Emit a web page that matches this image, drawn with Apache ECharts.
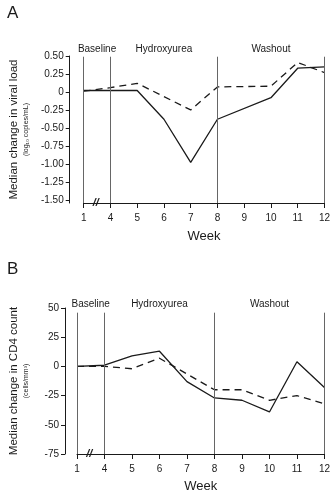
<!DOCTYPE html>
<html>
<head>
<meta charset="utf-8">
<script src="https://cdn.jsdelivr.net/npm/echarts@6/dist/echarts.min.js"></script>
<style>
html,body{margin:0;padding:0;background:#fff;}
#c{width:333px;height:494px;}
</style>
</head>
<body>
<div id="c"></div>
<script>
// ---- data ----
var weeks = ['1','4','5','6','7','8','9','10','11','12'];
var viralSolid  = [0.02, 0.02, 0.02, -0.38, -0.98, -0.38, null, -0.08, 0.33, 0.35];
var viralDashed = [0.01, 0.06, 0.12, null, -0.25, 0.07, null, 0.08, 0.41, 0.27];
var cd4Solid  = [0, 1, 9, 13, -13, -27, -29, -39, 4, -18];
var cd4Dashed = [0, 0, -2, 7, null, -20, -20, -29, -25, -32];
var viralTicks = [-1.5, -1.25, -1, -0.75, -0.5, -0.25, 0, 0.25, 0.5];
var cd4Ticks = [-75, -50, -25, 0, 25, 50];
var phaseNames = ['Baseline', 'Hydroxyurea', 'Washout'];
var phaseBounds = ['1', '4', '8', '12'];

var FONT = 'Liberation Sans, Arial, Helvetica, sans-serif';
var INK = '#1a1a1a';

function phaseAreas(yTop, yBot) {
  var out = [];
  for (var i = 0; i < phaseNames.length; i++) {
    out.push([{ name: phaseNames[i], xAxis: phaseBounds[i], yAxis: yTop },
              { xAxis: phaseBounds[i + 1], yAxis: yBot }]);
  }
  return out;
}
function phaseLines(yTop, yBot) {
  return phaseBounds.map(function (b) {
    return [{ coord: [b, yTop] }, { coord: [b, yBot] }];
  });
}

var chart = echarts.init(document.getElementById('c'), null, { renderer: 'canvas' });

var xAxisCommon = {
  type: 'category',
  data: weeks,
  boundaryGap: false,
  axisLine: { onZero: false, lineStyle: { color: INK, width: 1 } },
  axisTick: { show: true, alignWithLabel: true, length: 5, lineStyle: { color: INK } },
  axisLabel: { color: INK, fontSize: 10, fontFamily: FONT, margin: 10 },
  splitLine: { show: false },
  name: 'Week',
  nameLocation: 'middle',
  nameTextStyle: { color: INK, fontSize: 13, fontFamily: FONT }
};

var option = {
  animation: false,
  backgroundColor: '#fff',
  title: [
    { text: 'A', left: 2, top: 0, textStyle: { fontSize: 17, fontWeight: 'normal', color: INK, fontFamily: FONT } },
    { text: 'B', left: 2, top: 256, textStyle: { fontSize: 17, fontWeight: 'normal', color: INK, fontFamily: FONT } }
  ],
  grid: [
    { left: 73, right: 6, top: 56, bottom: 291 },
    { left: 70, right: 7, top: 308, bottom: 40 }
  ],
  xAxis: [
    Object.assign({}, xAxisCommon, { gridIndex: 0, nameGap: 27 }),
    Object.assign({}, xAxisCommon, { gridIndex: 1, nameGap: 26 })
  ],
  yAxis: [
    {
      type: 'value', gridIndex: 0, min: -1.545, max: 0.5, offset: 14,
      axisLine: { show: true, lineStyle: { color: INK, width: 1 } },
      axisTick: { show: true, length: 4, customValues: viralTicks, lineStyle: { color: INK } },
      axisLabel: {
        customValues: viralTicks, color: INK, fontSize: 10, fontFamily: FONT, margin: 6,
        formatter: function (v) { return v === 0 ? '0' : v.toFixed(2); }
      },
      splitLine: { show: false },
      name: '{a|Median change in viral load}\n{b|(log₁₀ copies/mL)}',
      nameLocation: 'middle', nameRotate: 90, nameGap: 33,
      nameTextStyle: {
        color: INK, fontFamily: FONT, align: 'center',
        rich: {
          a: { fontSize: 11.5, fontFamily: FONT, color: INK, lineHeight: 14, align: 'center' },
          b: { fontSize: 7, fontFamily: FONT, color: INK, lineHeight: 11, align: 'center' }
        }
      }
    },
    {
      type: 'value', gridIndex: 1, min: -75, max: 50, interval: 25, offset: 12,
      axisLine: { show: true, lineStyle: { color: INK, width: 1 } },
      axisTick: { show: true, length: 4, lineStyle: { color: INK } },
      axisLabel: { color: INK, fontSize: 10, fontFamily: FONT, margin: 6 },
      splitLine: { show: false },
      name: '{a|Median change in CD4 count}\n{b|(cells/mm³)}',
      nameLocation: 'middle', nameRotate: 90, nameGap: 33,
      nameTextStyle: {
        color: INK, fontFamily: FONT, align: 'center',
        rich: {
          a: { fontSize: 11.5, fontFamily: FONT, color: INK, lineHeight: 14, align: 'center' },
          b: { fontSize: 7, fontFamily: FONT, color: INK, lineHeight: 11, align: 'center' }
        }
      }
    }
  ],
  series: [
    {
      type: 'line', xAxisIndex: 0, yAxisIndex: 0, data: viralSolid, connectNulls: true,
      symbol: 'none', lineStyle: { color: INK, width: 1.3, type: 'solid' },
      markArea: {
        silent: true,
        itemStyle: { color: 'rgba(0,0,0,0)' },
        label: { show: true, position: 'top', distance: 2, color: INK, fontSize: 10, fontFamily: FONT },
        data: phaseAreas(0.5, -1.5)
      }
    },
    {
      type: 'line', xAxisIndex: 0, yAxisIndex: 0, data: viralDashed, connectNulls: true,
      symbol: 'none', lineStyle: { color: INK, width: 1.3, type: [7, 5] },
      markLine: {
        silent: true, symbol: ['none', 'none'], label: { show: false },
        lineStyle: { color: '#666', width: 1, type: 'solid' },
        data: phaseLines(0.49, -1.545)
      }
    },
    {
      type: 'line', xAxisIndex: 1, yAxisIndex: 1, data: cd4Solid, connectNulls: true,
      symbol: 'none', lineStyle: { color: INK, width: 1.3, type: 'solid' },
      markArea: {
        silent: true,
        itemStyle: { color: 'rgba(0,0,0,0)' },
        label: { show: true, position: 'top', distance: -1, color: INK, fontSize: 10, fontFamily: FONT },
        data: phaseAreas(50, -75)
      }
    },
    {
      type: 'line', xAxisIndex: 1, yAxisIndex: 1, data: cd4Dashed, connectNulls: true,
      symbol: 'none', lineStyle: { color: INK, width: 1.3, type: [7, 5] },
      markLine: {
        silent: true, symbol: ['none', 'none'], label: { show: false },
        lineStyle: { color: '#666', width: 1, type: 'solid' },
        data: phaseLines(46, -75)
      }
    }
  ]
};

chart.setOption(option);

// axis-break marks "//" between weeks 1 and 4
function breakMark(xi, yi, yVal) {
  var p0 = chart.convertToPixel({ xAxisIndex: xi, yAxisIndex: yi }, [0, yVal]);
  var p1 = chart.convertToPixel({ xAxisIndex: xi, yAxisIndex: yi }, [1, yVal]);
  return {
    type: 'text',
    x: p0[0] + (p1[0] - p0[0]) * 0.45,
    y: p0[1],
    style: { text: '//', font: 'italic bold 11px ' + FONT, fill: INK, align: 'center', verticalAlign: 'middle' },
    z: 100
  };
}
chart.setOption({ graphic: [breakMark(0, 0, -1.545), breakMark(1, 1, -75)] });
</script>
</body>
</html>
